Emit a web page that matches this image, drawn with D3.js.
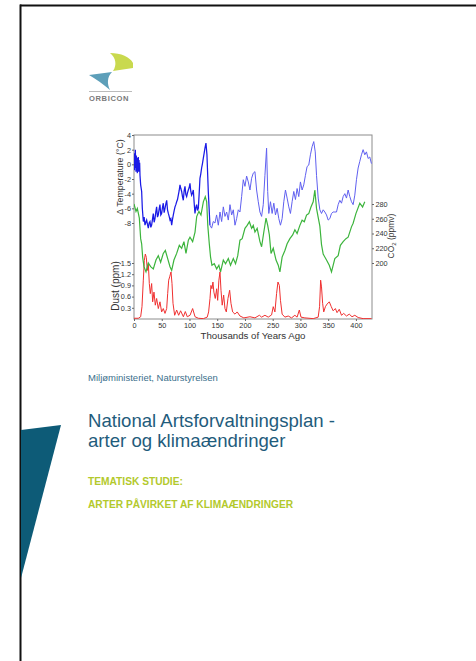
<!DOCTYPE html>
<html><head><meta charset="utf-8">
<script src="https://cdn.jsdelivr.net/npm/d3@7"></script>
<style>
html,body{margin:0;padding:0;background:#fff;}
svg{display:block;}
text{font-family:"Liberation Sans",Arial,sans-serif;}
</style></head><body>
<svg id="page" width="476" height="661"></svg>
<script>
// ---- data ----
const xTicks = [0,50,100,150,200,250,300,350,400];
const tempTicks = [4,2,0,-2,-4,-6,-8];
const dustTicks = [0.3,0.6,0.9,1.2,1.5];
const co2Ticks = [200,220,240,260,280];

// [thousands of years ago, temperature change °C]
const tempSeries = [[0,0.5],[0.6,-0.8],[1.2,1.5],[1.8,-0.5],[2.4,2],[3,0.3],[3.6,-1],[4.2,1.2],[4.8,-0.6],[5.4,0.8],[6,-1.2],[6.6,0.9],[7.2,-0.4],[7.8,1],[8.4,-1],[9,0.6],[9.6,-0.7],[10.2,0.2],[10.8,-1.5],
[12,-2.8],[13.8,-3.7],[15,-6],[16.8,-7.8],[18.3,-7.2],[19.8,-8.3],[21.3,-7.9],[22.8,-7.6],[24.3,-8.2],[25.8,-8.7],[27.3,-8.0],[28.8,-7.8],[30.3,-8.6],[31.8,-8.3],[33.3,-7.5],[34.8,-6.7],[36.3,-7.9],[37.8,-7.4],[39.3,-6.5],[40.8,-5.8],[42.3,-7.2],[43.8,-6.9],[45.3,-6.1],[46.8,-5.5],[48.3,-6.9],[49.8,-6.7],[51.3,-5.9],[52.8,-5.3],[54.3,-6.6],[55.9,-6],[57.4,-5.4],[58.9,-4.9],[60.4,-6.2],[61.9,-6.7],[63.4,-7.1],[64.9,-7.6],[66.4,-7.4],[67.9,-8.3],[69.4,-7.5],[70.9,-6.9],[72.4,-6.3],[73.9,-5.8],[75.4,-5.5],[76.9,-5.1],[78.4,-4.8],[79.9,-4.2],[81.4,-3.6],[82.9,-2.8],[84.4,-3.3],[85.9,-3.7],[87.4,-4.4],[88.9,-4.9],[90.4,-3.6],[91.9,-3],[93.4,-4.1],[94.9,-4.4],[96.4,-3.9],[97.9,-3.5],[99.4,-3.2],[100.9,-2.6],[102.4,-3.7],[103.9,-4.2],[105.4,-3.9],[106.9,-3.5],[108.4,-5.2],[109.9,-6.7],[111.4,-5.9],[112.9,-5.5],[114.4,-6.3],[115.9,-6],[117.4,-4.1],[118.9,-1.9],[120.4,-1.3],[121.9,-0.5],[123.4,0.1],[124.9,0.8],[126.4,1.5],[127.9,2.2],[129.7,2.9],[131.5,1.3],[133.9,-3.7],[136.9,-8.3],
[139.9,-8.7],[142.9,-7.8],[145.9,-8],[148.9,-6.9],[152,-8.3],[155,-6.5],[158,-7.8],[161,-5.8],[164,-7.1],[167,-6.5],[170,-7.6],[173,-5.5],[176,-6.9],[179,-6.2],[182,-8.3],[185,-7.4],[188,-6.2],[191,-6.5],[194,-4.4],[197,-2.1],[200,-3],[203,-1.6],[206,-2.4],[209,-3.5],[212,-1.9],[215,-1.2],[218,-1],[221,-3.5],[224,-5.1],[227,-6.5],[230,-7.1],[233,-5.5],[236,-1.5],[239,2.2],[241,-3.7],[243,-6.7],[246,-5.1],[249,-6.7],[252,-5.3],[255,-6.9],[258,-6],[261,-7.4],[264,-8.3],[267,-7.4],[270,-5.1],[273,-3.5],[276,-4.6],[279,-5.8],[282,-6.7],[285,-5.1],[288,-3.7],[291,-4.8],[294,-3.3],[297,-4.4],[300,-2.4],[303,-3.5],[306,-2.8],[309,-1.5],[312,-0.3],[315,-0.1],[318,1.3],[321,2.4],[324,3.1],[326.7,1.7],[329,-1.5],[332,-4.6],[335,-6.2],[338,-6.7],[341,-6.2],[344,-6.5],[347,-6.9],[350,-7.6],[353,-7.4],[356,-6.7],[359,-6.5],[362,-6.5],[365,-6.5],[368,-5.5],[371,-4.9],[374,-5.3],[377,-4.4],[380,-4],[383,-4.6],[386,-3.5],[389,-4.4],[392,-5.1],[395,-5.5],[398,-4.2],[401,-2.1],[404,-0.5],[407,0.4],[410,1.3],[413,2],[416,1.3],[419,1.7],[422,0.8],[425,1],[428,0.1]];

// [thousands of years ago, CO2 ppmv]
const co2Series = [[0,280],[3.6,270],[6,274],[9.6,261],[12,233],[13.8,226],[15.6,208],[18,195],[21.6,188],[25.8,200],[30,195],[34.8,192],[39.6,204],[43.8,210],[48,201],[52.8,213],[56.5,217],[60.7,206],[64.9,195],[67.9,190],[72,204],[76.9,213],[81.7,224],[85.9,220],[90,229],[93.7,213],[98,231],[100.9,235],[105.7,229],[110,242],[113,263],[117,270],[120.7,265],[125,283],[128.5,290],[131,283],[133,251],[135.7,226],[138,208],[140.5,197],[144.7,199],[149,192],[153,197],[156,188],[161,204],[165,199],[170,206],[174,197],[179,206],[183,199],[187,210],[191,231],[195,233],[200,247],[204,251],[208,256],[212,247],[215,251],[218,242],[222,247],[227,229],[230,222],[234,242],[238,261],[241,251],[244,238],[247,213],[251,220],[256,204],[260,197],[263,188],[267,208],[272,217],[276,226],[281,233],[286,238],[290,245],[294,240],[299,251],[303,258],[307,256],[311,265],[315,267],[319,276],[323,283],[326,299],[329,274],[332,262],[335,250],[338,225],[341,212],[347,204],[352,197],[356,188],[362,206],[368,210],[372,224],[377,229],[382,233],[386,235],[392,249],[395,254],[400,267],[407,281],[412,276],[416,283]];

// [thousands of years ago, dust ppm]
const dustSeries = [[0,0.02],[7.8,0.02],[12,0.06],[14.4,0.33],[16.8,1.04],[18.6,1.57],[20.4,1.74],[22.2,1.65],[24,1.3],[25.8,1.48],[27.6,0.95],[29.4,0.68],[31.8,0.95],[33.6,0.46],[36,0.72],[38.4,0.37],[40.8,0.55],[43.8,0.28],[46.8,0.46],[49.8,0.19],[52.8,0.28],[55.9,0.15],[58.9,0.28],[60.7,0.68],[62.5,1.04],[64.3,1.13],[66.7,1.26],[68.5,0.95],[70.3,0.42],[73.3,0.1],[76.9,0.24],[80.5,0.1],[84,0.22],[89,0.06],[92.5,0.2],[96,0.06],[101,0.1],[105.7,0.28],[110,0.06],[116,0.02],[125,0.01],[132,0.05],[134.5,0.19],[137,0.55],[138.7,0.9],[140.5,0.81],[142.3,0.99],[144,0.72],[146.5,0.55],[149,0.81],[150.8,0.5],[153,1.04],[155,1.26],[156.8,0.77],[159,0.37],[161.6,0.64],[164,0.28],[166.4,0.19],[169.4,0.55],[172.4,0.77],[174.8,0.42],[177.8,0.19],[182,0.13],[186,0.19],[191,0.08],[198,0.03],[209,0.06],[218,0.03],[226,0.1],[230,0.05],[236,0.1],[242,0.05],[248,0.11],[251,0.33],[254,0.19],[257,0.68],[259.5,0.99],[262,0.9],[264,0.5],[267,0.13],[272,0.05],[278,0.08],[284,0.03],[290,0.1],[294,0.05],[298,0.24],[301,0.05],[308,0.03],[323,0.01],[332,0.05],[334.5,0.33],[336.4,1.04],[338,0.86],[340,0.42],[342,0.19],[345,0.33],[348,0.4],[352,0.46],[355.6,0.33],[359,0.22],[363,0.28],[366,0.17],[370,0.26],[374,0.1],[378,0.15],[383,0.08],[388,0.13],[393,0.06],[398,0.1],[404,0.04],[413,0.01],[428,0.01]];

(function(){
// ---- page ----
const svg = d3.select("#page");
svg.append("rect").attr("width",476).attr("height",661).attr("fill","#fff");
// frame
svg.append("line").attr("x1",20).attr("y1",5.5).attr("x2",476).attr("y2",5.5).attr("stroke","#111").attr("stroke-width",2);
svg.append("line").attr("x1",20.5).attr("y1",4.5).attr("x2",20.5).attr("y2",661).attr("stroke","#111").attr("stroke-width",2);
// triangle
svg.append("path").attr("d","M21,430 L61,425 L21,578 Z").attr("fill","#0d5b77");

// logo
const logo = svg.append("g");
logo.append("path").attr("d","M110,53 C121,53 130,57 133,63 L133,68 L113,71 C117,65 116,58 110,53 Z").attr("fill","#c9d94e");
logo.append("path").attr("d","M89,75 L112,72 C107,77 107,84 110,90 C103,84 96,79 89,75 Z").attr("fill","#5d9fb9");
logo.append("line").attr("x1",89).attr("x2",132).attr("y1",91.5).attr("y2",91.5).attr("stroke","#aaa").attr("stroke-width",0.8);
logo.append("text").attr("x",89).attr("y",101).attr("font-size",7.6).attr("fill","#7a7a7a").attr("letter-spacing",0.6).attr("font-weight","bold").text("ORBICON");

// ---- chart ----
const x = d3.scaleLinear().domain([0,429]).range([134,372]);
const yT = d3.scaleLinear().domain([-8,4]).range([223,135]);
const yC = d3.scaleLinear().domain([200,280]).range([263,204]);
const yD = d3.scaleLinear().domain([0,1.5]).range([319,263]);
const pTop = 135, pBottom = 319, pLeft = 134, pRight = 372;

const chart = svg.append("g");
chart.append("rect").attr("x",pLeft).attr("y",pTop).attr("width",pRight-pLeft).attr("height",pBottom-pTop)
  .attr("fill","none").attr("stroke","#8c8c8c").attr("stroke-width",1);

const clip = svg.append("clipPath").attr("id","pc");
clip.append("rect").attr("x",pLeft).attr("y",pTop).attr("width",pRight-pLeft).attr("height",pBottom-pTop);
const plot = chart.append("g").attr("clip-path","url(#pc)");

const lineT = d3.line().x(d=>x(d[0])).y(d=>yT(d[1]));
const lineC = d3.line().x(d=>x(d[0])).y(d=>yC(d[1]));
const lineD = d3.line().x(d=>x(d[0])).y(d=>yD(d[1]));

plot.append("path").datum(dustSeries).attr("d",lineD).attr("fill","none").attr("stroke","#f03030").attr("stroke-width",1);
plot.append("path").datum(co2Series).attr("d",lineC).attr("fill","none").attr("stroke","#3cb43c").attr("stroke-width",1.2);
plot.append("path").datum(tempSeries.filter(d=>d[0]<=137)).attr("d",lineT).attr("fill","none").attr("stroke","#1a1ae6").attr("stroke-width",1.25);
plot.append("path").datum(tempSeries.filter(d=>d[0]>=136.9)).attr("d",lineT).attr("fill","none").attr("stroke","#6060f0").attr("stroke-width",1);

function styleAxis(g){
  g.select(".domain").remove();
  g.selectAll(".tick line").attr("stroke","#666");
  g.selectAll(".tick text").attr("fill","#333").attr("font-family","'Liberation Sans',Arial,sans-serif").attr("font-size",7.3);
}
chart.append("g").attr("transform",`translate(0,${pBottom})`)
  .call(d3.axisBottom(x).tickValues(xTicks).tickSize(2).tickPadding(1.5).tickFormat(d=>String(d))).call(styleAxis);
chart.append("g").attr("transform",`translate(${pLeft},0)`)
  .call(d3.axisLeft(yT).tickValues(tempTicks).tickSize(2).tickPadding(1).tickFormat(d=>String(d))).call(styleAxis);
chart.append("g").attr("transform",`translate(${pLeft},0)`)
  .call(d3.axisLeft(yD).tickValues(dustTicks).tickSize(2).tickPadding(1).tickFormat(d=>d.toFixed(1))).call(styleAxis);
chart.append("g").attr("transform",`translate(${pRight},0)`)
  .call(d3.axisRight(yC).tickValues(co2Ticks).tickSize(2).tickPadding(1.5).tickFormat(d=>String(d))).call(styleAxis);

chart.append("text").attr("x",253).attr("y",338.5).attr("text-anchor","middle").attr("font-size",9.7).attr("fill","#333").text("Thousands of Years Ago");
chart.append("text").attr("transform","translate(123,177) rotate(-90)").attr("text-anchor","middle").attr("font-size",8.8).attr("fill","#333").text("Δ Temperature (°C)");
chart.append("text").attr("transform","translate(118.5,286) rotate(-90)").attr("text-anchor","middle").attr("font-size",10).attr("fill","#333").text("Dust (ppm)");
const co2lab = chart.append("text").attr("transform","translate(394,236) rotate(-90)").attr("text-anchor","middle").attr("font-size",8.5).attr("fill","#333");
co2lab.append("tspan").text("CO");
co2lab.append("tspan").attr("font-size",6).attr("dy",2).text("2");
co2lab.append("tspan").attr("dy",-2).text(" (ppmv)");

// ---- cover texts ----
svg.append("text").attr("x",88).attr("y",380.5).attr("font-size",9.5).attr("fill","#3b6f8c").text("Miljøministeriet, Naturstyrelsen");
svg.append("text").attr("x",88).attr("y",426.5).attr("font-size",18.6).attr("fill","#1f5c7c").text("National Artsforvaltningsplan -");
svg.append("text").attr("x",88).attr("y",447).attr("font-size",18.6).attr("fill","#1f5c7c").text("arter og klimaændringer");
svg.append("text").attr("x",88).attr("y",484.5).attr("font-size",10.2).attr("font-weight","bold").attr("fill","#b3c92c").text("TEMATISK STUDIE:");
svg.append("text").attr("x",88).attr("y",507.5).attr("font-size",10.2).attr("font-weight","bold").attr("fill","#b3c92c").text("ARTER PÅVIRKET AF KLIMAÆNDRINGER");
})();
</script>
</body></html>
